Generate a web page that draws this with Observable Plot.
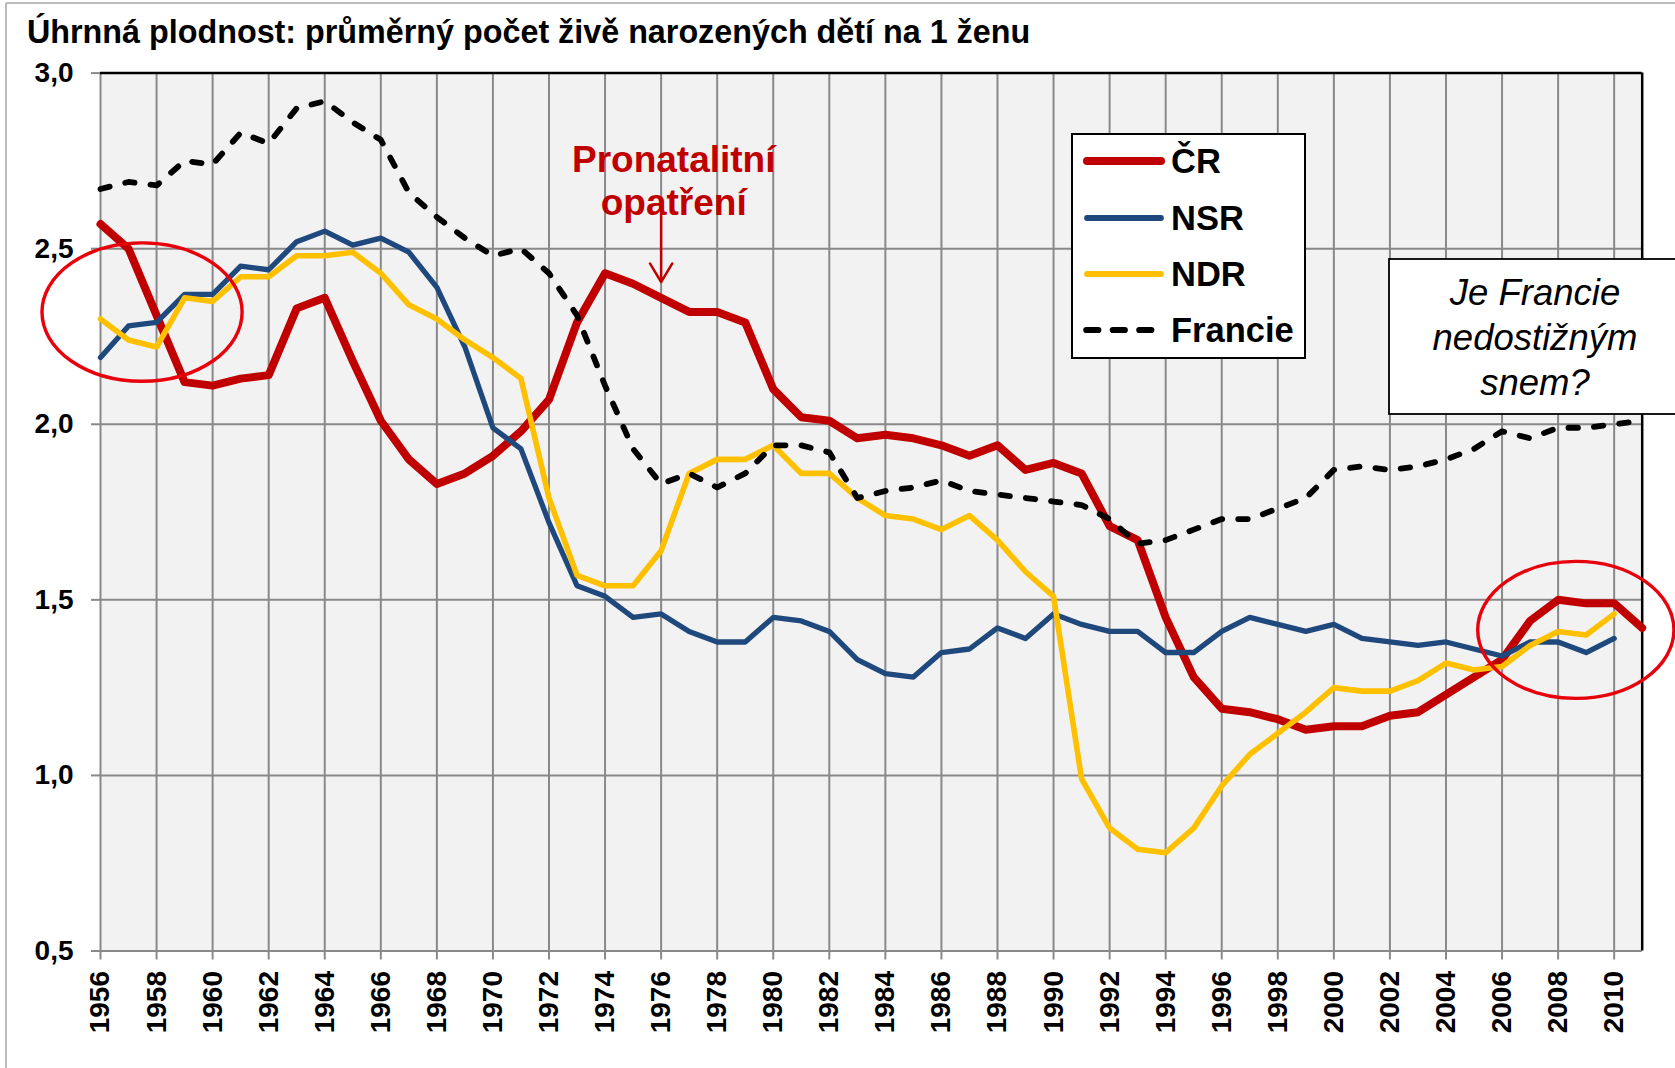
<!DOCTYPE html>
<html>
<head>
<meta charset="utf-8">
<script src="https://cdn.jsdelivr.net/npm/d3@7"></script>
<script src="https://cdn.jsdelivr.net/npm/@observablehq/plot@0.6"></script>
<style>
  html, body { margin: 0; padding: 0; background: #fff; }
  #wrap { position: relative; width: 1675px; height: 1068px; overflow: hidden; background: #fff; font-family: "Liberation Sans", Arial, sans-serif; }
  #wrap > svg { position: absolute; left: 0; top: 0; }
  #overlay { pointer-events: none; }
</style>
</head>
<body>
<div id="wrap"></div>
<script>
// ---------- data ----------
const years = [1956,1957,1958,1959,1960,1961,1962,1963,1964,1965,
               1966,1967,1968,1969,1970,1971,1972,1973,1974,1975,
               1976,1977,1978,1979,1980,1981,1982,1983,1984,1985,
               1986,1987,1988,1989,1990,1991,1992,1993,1994,1995,
               1996,1997,1998,1999,2000,2001,2002,2003,2004,2005,
               2006,2007,2008,2009,2010,2011];

const seriesNames = ["ČR", "NSR", "NDR", "Francie"];

const cr = [2.57,2.50,2.31,2.12,2.11,2.13,2.14,2.33,2.36,2.18,
            2.01,1.90,1.83,1.86,1.91,1.98,2.07,2.29,2.43,2.40,
            2.36,2.32,2.32,2.29,2.10,2.02,2.01,1.96,1.97,1.96,
            1.94,1.91,1.94,1.87,1.89,1.86,1.71,1.67,1.45,1.28,
            1.19,1.18,1.16,1.13,1.14,1.14,1.17,1.18,1.23,1.28,
            1.33,1.44,1.50,1.49,1.49,1.42];

const nsr = [2.19,2.28,2.29,2.37,2.37,2.45,2.44,2.52,2.55,2.51,
             2.53,2.49,2.39,2.22,1.99,1.93,1.72,1.54,1.51,1.45,
             1.46,1.41,1.38,1.38,1.45,1.44,1.41,1.33,1.29,1.28,
             1.35,1.36,1.42,1.39,1.46,1.43,1.41,1.41,1.35,1.35,
             1.41,1.45,1.43,1.41,1.43,1.39,1.38,1.37,1.38,1.36,
             1.34,1.38,1.38,1.35,1.39];

const ndr = [2.30,2.24,2.22,2.36,2.35,2.42,2.42,2.48,2.48,2.49,
             2.43,2.34,2.30,2.24,2.19,2.13,1.79,1.57,1.54,1.54,
             1.64,1.86,1.90,1.90,1.94,1.86,1.86,1.79,1.74,1.73,
             1.70,1.74,1.67,1.58,1.51,0.99,0.85,0.79,0.78,0.85,
             0.97,1.06,1.12,1.18,1.25,1.24,1.24,1.27,1.32,1.30,
             1.31,1.37,1.41,1.40,1.46];

const fr = [2.67,2.69,2.68,2.75,2.74,2.83,2.80,2.90,2.92,2.86,
            2.81,2.66,2.59,2.53,2.48,2.50,2.43,2.31,2.11,1.93,
            1.83,1.86,1.82,1.86,1.94,1.94,1.92,1.79,1.81,1.82,
            1.84,1.81,1.80,1.79,1.78,1.77,1.73,1.66,1.67,1.70,
            1.73,1.73,1.76,1.79,1.87,1.88,1.87,1.88,1.90,1.93,
            1.98,1.96,1.99,1.99,2.00,2.01];

const xTicks = [1956,1958,1960,1962,1964,1966,1968,1970,1972,1974,1976,1978,1980,1982,
                1984,1986,1988,1990,1992,1994,1996,1998,2000,2002,2004,2006,2008,2010];
const yTicks = [0.5, 1.0, 1.5, 2.0, 2.5, 3.0];

const titleText = "Úhrnná plodnost: průměrný počet živě narozených dětí na 1 ženu";
const noteLines = ["Je Francie", "nedostižným", "snem?"];
const pronatal = [{year: 1976.45, value: 2.697, text: "Pronatalitní\nopatření"}];
const arrowData = [{year: 1976, from: 2.60, to: 2.405}];
const ellipses = [
  {cx: 1957.5, cy: 2.318, rx: 3.57, ry: 0.197},
  {cx: 2008.65, cy: 1.413, rx: 3.50, ry: 0.195}
];

// ---------- styles ----------
const colors = {"ČR": "#c00000", "NSR": "#1f497d", "NDR": "#ffc000", "Francie": "#000000"};
const widths = {"ČR": 8, "NSR": 5.3, "NDR": 5.6, "Francie": 5.8};

const toRows = (vals) => vals.map((v, i) => ({year: years[i], value: v}));

const fmtY = d => d.toFixed(1).replace(".", ",");

const ellipseMark = (index, scales) => {
  const g = d3.create("svg:g");
  for (const e of ellipses) {
    const cx = scales.x(e.cx), cy = scales.y(e.cy);
    g.append("ellipse")
      .attr("cx", cx).attr("cy", cy)
      .attr("rx", Math.abs(scales.x(e.cx + e.rx) - cx))
      .attr("ry", Math.abs(scales.y(e.cy - e.ry) - cy))
      .attr("fill", "none").attr("stroke", "#e8000b").attr("stroke-width", 3.4);
  }
  return g.node();
};

const chart = Plot.plot({
  width: 1675,
  height: 1068,
  marginTop: 72.6,
  marginBottom: 117.5,
  marginLeft: 100,
  marginRight: 33.3,
  style: {fontFamily: "'Liberation Sans', Arial, sans-serif", background: "transparent", overflow: "visible", color: "#000"},
  x: {type: "linear", domain: [1956, 2011]},
  y: {domain: [0.5, 3]},
  marks: [
    Plot.frame({fill: "#f2f2f2", stroke: null}),
    Plot.gridX(xTicks, {stroke: "#898989", strokeOpacity: 1, strokeWidth: 2}),
    Plot.gridY(yTicks, {stroke: "#898989", strokeOpacity: 1, strokeWidth: 2}),
    Plot.ruleY([3], {stroke: "#000", strokeWidth: 2.5}),
    Plot.ruleX([2011], {stroke: "#000", strokeWidth: 2.5}),
    Plot.axisX(xTicks, {
      tickRotate: -90, tickSize: 9, tickPadding: 11, tickFormat: d => String(d),
      fontSize: 28, fontWeight: "bold", stroke: "#898989", strokeWidth: 2, fill: "#000", label: null
    }),
    Plot.axisY(yTicks, {
      tickSize: 9, tickPadding: 18, tickFormat: fmtY,
      fontSize: 28, fontWeight: "bold", stroke: "#898989", strokeWidth: 2, fill: "#000", label: null
    }),
    Plot.line(toRows(cr), {x: "year", y: "value", stroke: colors["ČR"], strokeWidth: widths["ČR"], strokeLinejoin: "round"}),
    Plot.line(toRows(nsr), {x: "year", y: "value", stroke: colors["NSR"], strokeWidth: widths["NSR"], strokeLinejoin: "round"}),
    Plot.line(toRows(ndr), {x: "year", y: "value", stroke: colors["NDR"], strokeWidth: widths["NDR"], strokeLinejoin: "round"}),
    Plot.line(toRows(fr), {x: "year", y: "value", stroke: colors["Francie"], strokeWidth: widths["Francie"],
      strokeDasharray: "9.5,16", strokeLinecap: "round", strokeLinejoin: "round"}),
    Plot.text(pronatal, {x: "year", y: "value", text: "text", fontSize: 37, fontWeight: "bold",
      fill: "#c00000", lineHeight: 1.16, lineAnchor: "middle"}),
    Plot.arrow(arrowData, {x1: "year", x2: "year", y1: "from", y2: "to", stroke: "#c00000",
      strokeWidth: 2.5, headLength: 13, headAngle: 62}),
    ellipseMark
  ]
});

const wrap = document.getElementById("wrap");
wrap.appendChild(chart);

// ---------- overlay: title, legend, note box, outer border ----------
const ov = d3.select(wrap).append("svg")
  .attr("id", "overlay")
  .attr("width", 1675).attr("height", 1068)
  .style("font-family", "'Liberation Sans', Arial, sans-serif");

ov.append("line").attr("x1", 6).attr("y1", 3).attr("x2", 6).attr("y2", 1068)
  .attr("stroke", "#a6a6a6").attr("stroke-width", 1.5);
ov.append("line").attr("x1", 6).attr("y1", 3).attr("x2", 1675).attr("y2", 3)
  .attr("stroke", "#a6a6a6").attr("stroke-width", 1.5);

ov.append("text").attr("x", 27).attr("y", 43)
  .attr("font-size", 32.3).attr("font-weight", "bold").attr("fill", "#000")
  .text(titleText);

// legend
const lg = ov.append("g");
lg.append("rect").attr("x", 1072).attr("y", 134).attr("width", 233).attr("height", 224)
  .attr("fill", "#fff").attr("stroke", "#000").attr("stroke-width", 2);
const legendY = [161, 218, 274, 330];
const legendW = {"ČR": 8, "NSR": 5.8, "NDR": 5.8, "Francie": 6.2};
seriesNames.forEach((name, i) => {
  const isDash = name === "Francie";
  lg.append("line")
    .attr("x1", isDash ? 1086.3 : 1087).attr("x2", isDash ? 1151.3 : 1161)
    .attr("y1", legendY[i]).attr("y2", legendY[i])
    .attr("stroke", colors[name]).attr("stroke-width", legendW[name])
    .attr("stroke-linecap", "round")
    .attr("stroke-dasharray", isDash ? "12,14.5" : null);
  lg.append("text").attr("x", 1171).attr("y", legendY[i] + 12)
    .attr("font-size", 34.5).attr("font-weight", "bold").attr("fill", "#000")
    .text(name);
});

// note box
const nb = ov.append("g");
nb.append("rect").attr("x", 1389).attr("y", 259).attr("width", 320).attr("height", 155)
  .attr("fill", "#fff").attr("stroke", "#000").attr("stroke-width", 1.8);
noteLines.forEach((t, i) => {
  nb.append("text").attr("x", 1535).attr("y", 305 + i * 45)
    .attr("text-anchor", "middle").attr("font-size", 36.5).attr("font-style", "italic")
    .attr("fill", "#000").text(t);
});
</script>
</body>
</html>
